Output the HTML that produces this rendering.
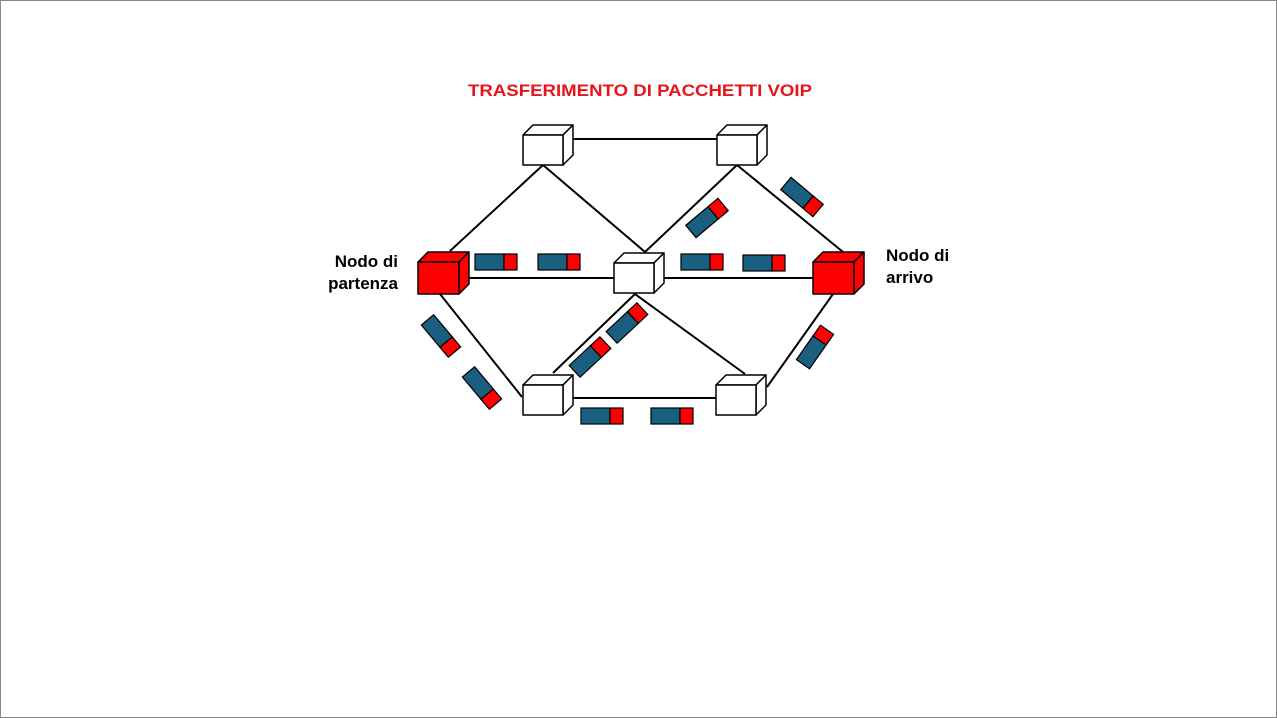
<!DOCTYPE html>
<html><head><meta charset="utf-8"><style>
html,body{margin:0;padding:0;background:#fff}
svg{display:block}
text{font-family:"Liberation Sans",Arial,sans-serif;font-weight:bold}
</style></head><body>
<svg width="1277" height="718" viewBox="0 0 1277 718" xmlns="http://www.w3.org/2000/svg">
<rect x="0.5" y="0.5" width="1276" height="717" fill="#fff" stroke="#888"/>
<text x="640" y="96" text-anchor="middle" font-size="17" fill="#e8141c" textLength="344" lengthAdjust="spacingAndGlyphs">TRASFERIMENTO DI PACCHETTI VOIP</text>
<text x="398" y="267" text-anchor="end" font-size="17">Nodo di</text>
<text x="398" y="289" text-anchor="end" font-size="17">partenza</text>
<text x="886" y="261" font-size="17">Nodo di</text>
<text x="886" y="283" font-size="17">arrivo</text>
<g stroke="#000" stroke-width="2" fill="none">
<line x1="563" y1="139" x2="717" y2="139"/>
<line x1="543" y1="165" x2="450" y2="251"/>
<line x1="543" y1="165" x2="645" y2="252"/>
<line x1="737" y1="165" x2="645" y2="252"/>
<line x1="737" y1="165" x2="843" y2="252"/>
<line x1="459" y1="278" x2="614" y2="278"/>
<line x1="655" y1="278" x2="813" y2="278"/>
<line x1="440" y1="294" x2="522" y2="397"/>
<line x1="635" y1="294" x2="553" y2="373"/>
<line x1="635" y1="294" x2="745" y2="374"/>
<line x1="833" y1="294" x2="767" y2="387"/>
<line x1="563" y1="398" x2="716" y2="398"/>
</g>
<defs>
<g id="cw" stroke="#000" stroke-width="1.5" stroke-linejoin="round">
<polygon points="0,10 10,0 50,0 40,10" fill="#fff"/>
<polygon points="40,10 50,0 50,30 40,40" fill="#fff"/>
<rect x="0" y="10" width="40" height="30" fill="#fff"/>
</g>
<g id="cr" stroke="#000" stroke-width="1.5" stroke-linejoin="round">
<polygon points="0,10 10,0 51,0 41,10" fill="#f00"/>
<polygon points="41,10 51,0 51,32 41,42" fill="#f00"/>
<rect x="0" y="10" width="41" height="32" fill="#f00"/>
</g>
<g id="pk" stroke="#000" stroke-width="1.2">
<rect x="-21" y="-8" width="29" height="16" fill="#1a5f7f"/>
<rect x="8" y="-8" width="13" height="16" fill="#f00"/>
</g>
</defs>
<use href="#cw" x="523" y="125"/>
<use href="#cw" x="717" y="125"/>
<use href="#cr" x="418" y="252"/>
<use href="#cw" x="614" y="253"/>
<use href="#cr" x="813" y="252"/>
<use href="#cw" x="523" y="375"/>
<use href="#cw" x="716" y="375"/>
<use href="#pk" transform="translate(496,262)"/>
<use href="#pk" transform="translate(559,262)"/>
<use href="#pk" transform="translate(702,262)"/>
<use href="#pk" transform="translate(764,263)"/>
<use href="#pk" transform="translate(602,416)"/>
<use href="#pk" transform="translate(672,416)"/>
<use href="#pk" transform="translate(802,197) rotate(40)"/>
<use href="#pk" transform="translate(707,218) rotate(-40)"/>
<use href="#pk" transform="translate(441,336) rotate(50)"/>
<use href="#pk" transform="translate(482,388) rotate(50)"/>
<use href="#pk" transform="translate(627,323) rotate(-43)"/>
<use href="#pk" transform="translate(590,357) rotate(-43)"/>
<use href="#pk" transform="translate(815,347) rotate(-55)"/>
</svg>
</body></html>
